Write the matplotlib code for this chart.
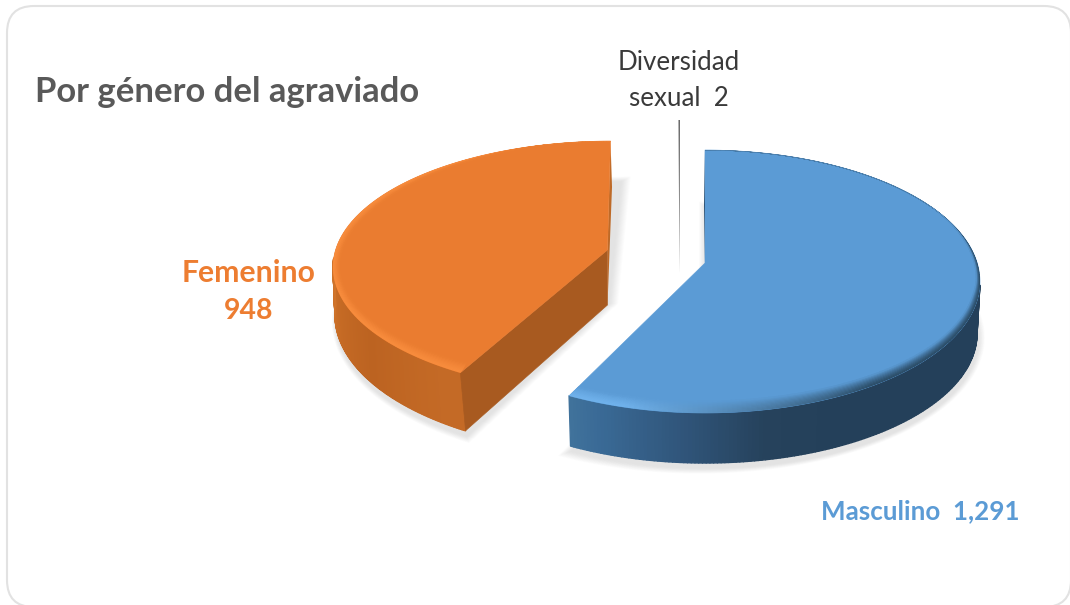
"""plot.py - 3D-look exploded pie, genero del agraviado."""
import numpy as np
import matplotlib
matplotlib.use("Agg")
import matplotlib.pyplot as plt
from matplotlib.collections import PolyCollection
from matplotlib.colors import to_rgb
from matplotlib.patches import FancyBboxPatch, Polygon

plt.rcParams["font.family"] = ["Lato", "DejaVu Sans"]

TITLE = "Por género del agraviado"
CATEGORIES = ["Masculino", "Femenino", "Diversidad sexual"]
VALUES = [1291, 948, 2]
COLORS = ["#5B9BD5", "#EA7C30", "#6A6A6A"]

W, H = 1070, 605

# face / base ellipses in pixels (projection of the exploded slices), skew = perspective shift in degrees
GEOM = {
    "Masculino": dict(apex=(705, 263), top=(705, 281.5, 275, 131.5), base=(705, 333.5, 272, 129.5), skew=2.3),
    "Femenino": dict(apex=(607.5, 250), top=(612, 267, 279, 126), base=(621, 315, 286, 138), skew=5.7),
    "Diversidad sexual": dict(apex=(679.5, 273), top=(680, 273, 275, 153), base=None, skew=0.0),
}
WALL_STOPS = {
    "Masculino": ([90, 150, 165, 182, 200, 212], ["#24405A", "#24405A", "#26425C", "#30557A", "#3A6A96", "#44799F"]),
    "Femenino": ([212, 235, 255, 270], ["#C46A26", "#BC6321", "#C66B25", "#D0742B"]),
}
INNER_WALL = "#A85A20"


def warp(deg, skew):
    # perspective: the shared boundary sits a bit further round than its true angle
    return deg + skew * np.sin(np.radians(deg) / 2)


def arc(ell, deg, skew):
    cx, cy, a, b = ell
    t = np.radians(warp(np.asarray(deg, float), skew))
    return np.column_stack([cx + a * np.sin(t), cy - b * np.cos(t)])


def mix(c1, c2, f):
    return tuple((1 - f) * np.array(to_rgb(c1)) + f * np.array(to_rgb(c2)))


def ramp(stops, deg):
    pos, cols = stops
    rgb = np.array([to_rgb(c) for c in cols])
    return [tuple(np.interp(d, pos, rgb[:, i]) for i in range(3)) for d in deg]


def draw_wall(ax, name, d0, d1):
    g = GEOM[name]
    lo, hi = max(d0, 90), min(d1, 270)
    ds = np.linspace(lo, hi, 150)
    up, dn = arc(g["top"], ds, g["skew"]), arc(g["base"], ds, g["skew"])
    quads = [[up[i], up[i + 1], dn[i + 1], dn[i]] for i in range(len(ds) - 1)]
    cols = ramp(WALL_STOPS[name], ds[:-1])
    ax.add_collection(PolyCollection(quads, facecolors=cols, edgecolors=cols, lw=1.0, zorder=3))


def draw_bevel(ax, name, d0, d1, face, clip):
    g = GEOM[name]
    cx, cy, a, b = g["top"]
    ds = np.linspace(d0, d1, 200)
    fr = np.linspace(0, 1, 11)
    quads, cols = [], []
    for k in range(len(fr) - 1):
        for i in range(len(ds) - 1):
            pts = []
            for d, f in ((ds[i], fr[k]), (ds[i + 1], fr[k]), (ds[i + 1], fr[k + 1]), (ds[i], fr[k + 1])):
                th = np.radians(warp(d, g["skew"]))
                # lower rim is wide, upper rim almost nothing
                if name == "Masculino":
                    w = 3 + 9 * max(0.0, -np.cos(th)) + 2 * abs(np.sin(th))
                    w *= np.clip((d - 55) / 40, 0, 1)
                else:
                    w = 7 + 6 * max(0.0, -np.cos(th))
                    w *= np.clip((345 - d) / 50, 0, 1)
                pts.append((cx + (a - w * f) * np.sin(th), cy - (b - w * f) * np.cos(th)))
            quads.append(pts)
            m = 0.5 * (ds[i] + ds[i + 1])
            if name == "Masculino":
                edge = mix("#28475F", "#72B4EE", np.clip((m - 140) / 55, 0, 1))
            else:
                edge = "#F98E3E"
            cols.append(mix(edge, face, min(1.0, fr[k] ** 1.4 + 0.05)))
    pc = PolyCollection(quads, facecolors=cols, edgecolors=cols, lw=0.4, zorder=5)
    ax.add_collection(pc)
    pc.set_clip_path(clip)


def slice_poly(name, d0, d1):
    g = GEOM[name]
    return np.vstack([g["apex"], arc(g["top"], np.linspace(d0, d1, 200), g["skew"])])


def draw_shadow(ax, name, d0, d1):
    g = GEOM[name]
    cx, cy, a, b = g["base"]
    base = np.vstack([(g["apex"][0], g["apex"][1] + (cy - g["top"][1])),
                      arc(g["base"], np.linspace(d0, d1, 200), g["skew"])])
    mid = base.mean(axis=0)
    for k in range(1, 11):
        s = 1 + 0.005 * k
        pts = mid + (base - mid) * s + np.array([1, 5])
        ax.add_patch(Polygon(pts, closed=True, fc="#a0a0a0", ec="none", alpha=0.028, zorder=1))


fig = plt.figure(figsize=(W / 100, H / 100), dpi=100)
ax = fig.add_axes([0, 0, 1, 1])
ax.set_xlim(0, W)
ax.set_ylim(H, 0)
ax.axis("off")

ax.add_patch(FancyBboxPatch((7 + 27, 6 + 27), 1071 - 7 - 54, 607 - 6 - 54, boxstyle="round,pad=27,rounding_size=27",
                            fc="white", ec="#E2E2E2", lw=1.5, zorder=0))

edges = np.concatenate([[0], np.cumsum(VALUES)]) / np.sum(VALUES) * 360
spans = {n: (edges[i], edges[i + 1]) for i, n in enumerate(CATEGORIES)}
cmap = dict(zip(CATEGORIES, COLORS))

# shadows first, then each slice
for n in CATEGORIES[:2]:
    draw_shadow(ax, n, *spans[n])

for n in CATEGORIES[:2]:
    d0, d1 = spans[n]
    g = GEOM[n]
    draw_wall(ax, n, d0, d1)
    if n == "Femenino":
        end = arc(g["top"], [d0], g["skew"])[0]
        end_b = arc(g["base"], [d0], g["skew"])[0]
        rim = arc(g["top"], [d1], g["skew"])[0]
        ax.add_patch(Polygon([g["apex"], end, end_b, (g["apex"][0], g["apex"][1] + 55)], closed=True,
                             fc=INNER_WALL, ec=INNER_WALL, lw=0.4, zorder=3))
        ax.add_patch(Polygon([rim, (rim[0] + 1.5, rim[1] + 46), (g["apex"][0], g["apex"][1] + 55), g["apex"]],
                             closed=True, fc="#BE6A28", ec="none", zorder=3))
    else:
        rim = arc(g["top"], [d0], g["skew"])[0]
        ax.add_patch(Polygon([rim, (rim[0] - 1, rim[1] + 55), g["apex"]], closed=True, fc="#1F3B55", ec="none", zorder=3))
    face = Polygon(slice_poly(n, d0, d1), closed=True, fc=cmap[n], ec=cmap[n], lw=0.4, zorder=4)
    ax.add_patch(face)
    draw_bevel(ax, n, d0, d1, cmap[n], face)

# the tiny third slice only reads as a hairline
d0, d1 = spans["Diversidad sexual"]
ax.add_patch(Polygon(slice_poly("Diversidad sexual", d0, d1), closed=True, fc=COLORS[2], ec="none", zorder=4))

ax.text(35, 92, TITLE, fontsize=24.9, fontweight="bold", color="#595959", ha="left", va="center")
ax.text(249, 273, "Femenino", fontsize=21.7, fontweight="bold", color="#ED7D31", ha="center", va="center")
ax.text(249, 311, f"{VALUES[1]:,}", fontsize=20.4, fontweight="bold", color="#ED7D31", ha="center", va="center")
ax.text(920, 511, f"Masculino  {VALUES[0]:,}", fontsize=18.7, fontweight="bold", color="#5B9BD5", ha="center", va="center")
ax.text(679, 63, "Diversidad", fontsize=18.6, color="#3A3A3A", ha="center", va="center")
ax.text(679, 98, f"sexual  {VALUES[2]}", fontsize=18.6, color="#3A3A3A", ha="center", va="center")

fig.savefig("out.png", dpi=100)
print("saved out.png")
